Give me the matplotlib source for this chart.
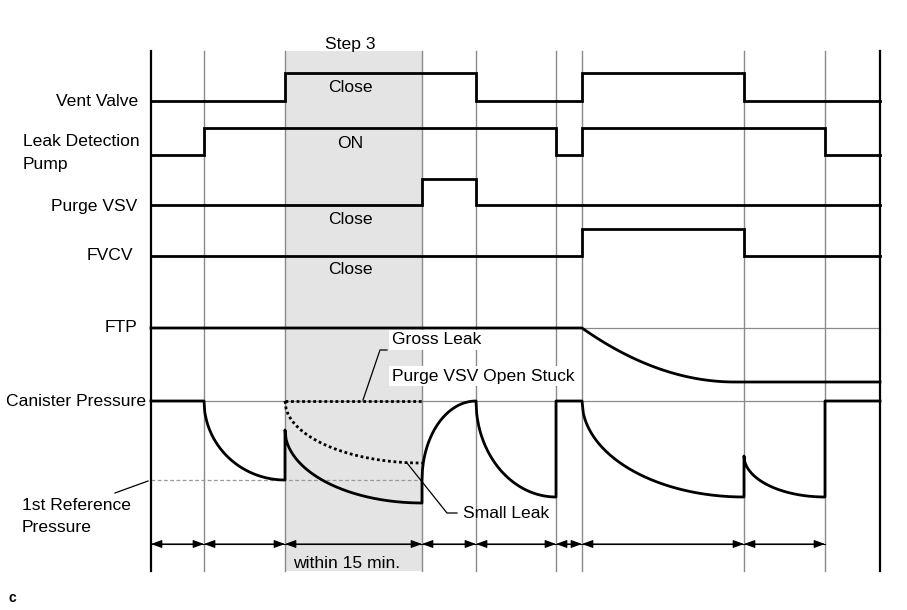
import numpy as np
import matplotlib
matplotlib.use("Agg")
import matplotlib.pyplot as plt

plt.rcParams['font.family'] = ['Liberation Sans', 'DejaVu Sans']

# time marks (vertical grid lines) in drawing units
t_marks = [151, 204, 285, 422, 476, 556, 582, 744, 825, 880]
t_start, t_end = 151, 880
step3 = (285, 422)

# on/off signals: (low level, high level), switch times
vent_levels = (101, 73)
vent_switch = [285, 476, 582, 744]
pump_levels = (155, 128)
pump_switch = [204, 556, 582, 825]
purge_levels = (205, 179)
purge_switch = [422, 476]
fvcv_levels = (256, 229)
fvcv_switch = [582, 744]

# FTP and canister pressure levels
ftp_high, ftp_low = 328, 382
ftp_drop = (582, 735)
can_high = 401
ref_press = 480
# canister pressure segments: (t0, t1, y0, y1, curve kind)
can_segments = [
    (151, 204, 401, 401, 'flat'),
    (204, 285, 401, 480, 'arc'),
    (285, 422, 430, 503, 'arc'),
    (422, 422, 503, 480, 'flat'),
    (422, 476, 480, 401, 'arc'),
    (476, 556, 401, 497, 'arc'),
    (556, 582, 401, 401, 'flat'),
    (582, 744, 401, 497, 'arc'),
    (744, 825, 456, 497, 'arc'),
    (825, 880, 401, 401, 'flat'),
]
small_leak = (285, 422, 401, 463)
arrow_marks = [151, 204, 285, 422, 476, 556, 582, 744, 825]

row_labels = ['Vent Valve', 'Purge VSV', 'FVCV', 'FTP', 'Canister Pressure']
row_label_y = [101, 207, 256, 328, 401]
row_label_x = [138, 137, 133, 137, 146]


def step_xy(levels, switches):
    xs, ys = [t_start], [levels[0]]
    state = 0
    for s in switches:
        xs += [s, s]
        ys += [levels[state], levels[1 - state]]
        state = 1 - state
    xs.append(t_end)
    ys.append(levels[state])
    return xs, ys


def curve(t0, t1, y0, y1, kind):
    u = np.linspace(0, 1, 120)
    if kind == 'flat':
        f = u
    elif kind == 'arc':
        f = np.sqrt(1 - (1 - u) ** 2)
    else:
        f = 1 - (1 - u) ** 2
    return t0 + u * (t1 - t0), y0 + f * (y1 - y0)


fig = plt.figure(figsize=(9.07, 6.10), dpi=100)
ax = fig.add_axes([0, 0, 1, 1])
ax.set_xlim(0, 907)
ax.set_ylim(610, 0)
ax.axis('off')

top, bottom = 51, 571
ax.add_patch(plt.Rectangle((step3[0], top), step3[1] - step3[0], bottom - top,
                           facecolor='#e4e4e4', edgecolor='none', zorder=0))

for t in t_marks:
    if t in (t_start, t_end):
        ax.plot([t, t], [top, bottom], color='black', lw=1.6, zorder=2)
    else:
        ax.plot([t, t], [top, bottom], color='#8a8a8a', lw=1.0, zorder=1)

# thin guide lines
ax.plot([t_start, t_end], [can_high, can_high], color='#8a8a8a', lw=0.9, zorder=1)
ax.plot([582, t_end], [ftp_high, ftp_high], color='#8a8a8a', lw=0.9, zorder=1)
ax.plot([t_start, 422], [ref_press, ref_press], color='#999999', lw=0.9,
        ls=(0, (3, 2)), zorder=1)

lw = 2.0
for lev, sw in [(vent_levels, vent_switch), (pump_levels, pump_switch),
                (purge_levels, purge_switch), (fvcv_levels, fvcv_switch)]:
    xs, ys = step_xy(lev, sw)
    ax.plot(xs, ys, color='black', lw=lw, solid_joinstyle='miter', zorder=3)

# FTP
fx, fy = curve(ftp_drop[0], ftp_drop[1], ftp_high, ftp_low, 'parab')
ax.plot([t_start] + list(fx) + [t_end], [ftp_high] + list(fy) + [ftp_low],
        color='black', lw=lw, zorder=3)

# canister pressure
cx, cy = [], []
for seg in can_segments:
    x, y = curve(*seg)
    cx += list(x)
    cy += list(y)
ax.plot(cx, cy, color='black', lw=lw, zorder=3)

# gross leak / small leak dotted
ax.plot([285, 422], [can_high, can_high], color='black', lw=lw, ls=(0, (1, 1)), zorder=3)
sx, sy = curve(*small_leak, 'arc')
ax.plot(sx, sy, color='black', lw=lw, ls=(0, (1, 1)), zorder=3)

# arrows
ax.plot([arrow_marks[0], arrow_marks[-1]], [544, 544], color='black', lw=0.8, zorder=3)
for a, b in zip(arrow_marks[:-1], arrow_marks[1:]):
    ax.annotate('', xy=(a, 544), xytext=(b, 544),
                arrowprops=dict(arrowstyle='<|-|>,head_length=0.6,head_width=0.22',
                                color='black', lw=0.8,
                                mutation_scale=11, shrinkA=0, shrinkB=0))

fs = 12.6
for lab, x, y in zip(row_labels, row_label_x, row_label_y):
    ax.text(x, y, lab, ha='right', va='center', fontsize=fs)
ax.text(23, 142, 'Leak Detection', ha='left', va='center', fontsize=fs)
ax.text(23, 164, 'Pump', ha='left', va='center', fontsize=fs)
ax.text(22, 505, '1st Reference', ha='left', va='center', fontsize=fs)
ax.text(22, 527, 'Pressure', ha='left', va='center', fontsize=fs)
ax.plot([115, 148], [493, 481], color='black', lw=0.9)

ax.text(350, 44, 'Step 3', ha='center', va='center', fontsize=fs)
for y, s in [(88, 'Close'), (143, 'ON'), (220, 'Close'), (270, 'Close')]:
    ax.text(350, y, s, ha='center', va='center', fontsize=fs, zorder=4)
ax.text(347, 563, 'within 15 min.', ha='center', va='center', fontsize=fs)

box = dict(facecolor='white', edgecolor='none', pad=2)
ax.text(392, 340, 'Gross Leak', ha='left', va='center', fontsize=fs, bbox=box, zorder=4)
ax.text(392, 376, 'Purge VSV Open Stuck', ha='left', va='center', fontsize=fs,
        bbox=box, zorder=4)
ax.plot([387, 380, 363], [350, 350, 400], color='black', lw=0.9, zorder=5)

ax.text(463, 514, 'Small Leak', ha='left', va='center', fontsize=fs)
ax.plot([407, 447, 457], [463, 513, 513], color='black', lw=0.9, zorder=5)

ax.text(12, 598, 'c', ha='center', va='center', fontsize=10, fontweight='bold')

fig.savefig('out.png', dpi=100)
